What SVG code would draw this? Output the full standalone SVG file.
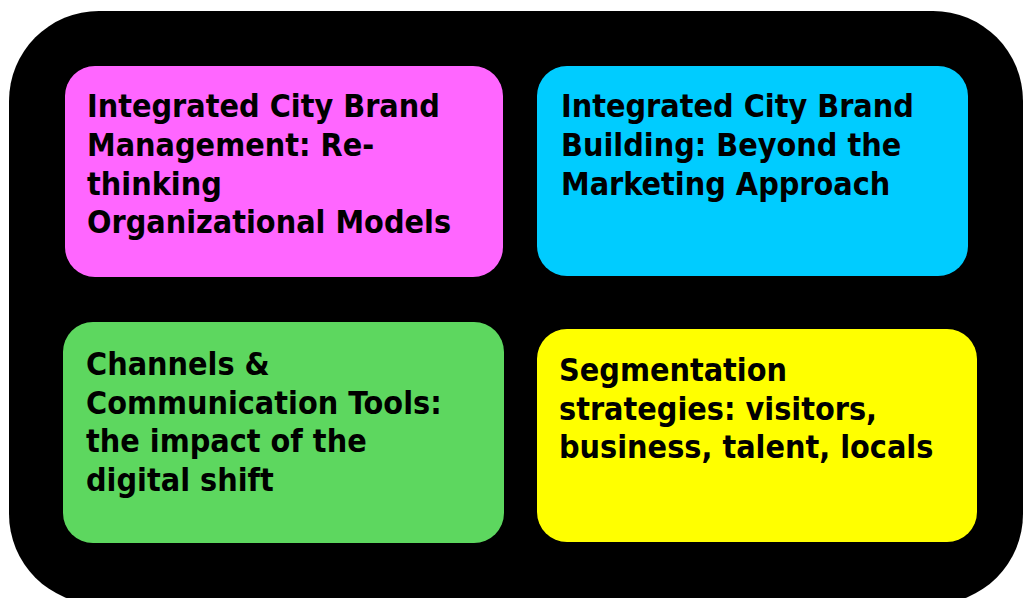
<svg xmlns="http://www.w3.org/2000/svg" width="1025" height="598" viewBox="0 0 1025 598">
<style>
  .box { stroke: none; }
  .lbl { font-family: "DejaVu Sans Condensed", "DejaVu Sans", sans-serif; font-stretch: condensed; font-weight: bold; font-size: 32px; fill: #000; }
</style>
<rect width="1025" height="598" fill="#ffffff"/>
<g id="frame">
  <rect x="9" y="11" width="1014" height="593" rx="90" ry="90" fill="#000"/>
</g>
<g id="connectors"></g>
<g id="node-management">
  <rect class="box" x="65" y="66" width="438" height="211" rx="30" fill="#ff66ff"/>
  <text class="lbl" x="87" y="117">Integrated City Brand</text>
  <text class="lbl" x="87" y="156">Management: Re-</text>
  <text class="lbl" x="87" y="195">thinking</text>
  <text class="lbl" x="87" y="233">Organizational Models</text>
</g>
<g id="node-building">
  <rect class="box" x="537" y="66" width="431" height="210" rx="30" fill="#00ccff"/>
  <text class="lbl" x="561" y="117">Integrated City Brand</text>
  <text class="lbl" x="561" y="156">Building: Beyond the</text>
  <text class="lbl" x="561" y="195">Marketing Approach</text>
</g>
<g id="node-channels">
  <rect class="box" x="63" y="322" width="441" height="221" rx="30" fill="#5dd75f"/>
  <text class="lbl" x="86" y="375">Channels &amp;</text>
  <text class="lbl" x="86" y="414">Communication Tools:</text>
  <text class="lbl" x="86" y="452">the impact of the</text>
  <text class="lbl" x="86" y="491">digital shift</text>
</g>
<g id="node-segmentation">
  <rect class="box" x="537" y="329" width="440" height="213" rx="30" fill="#ffff00"/>
  <text class="lbl" x="559" y="381">Segmentation</text>
  <text class="lbl" x="559" y="420">strategies: visitors,</text>
  <text class="lbl" x="559" y="458">business, talent, locals</text>
</g>
</svg>
